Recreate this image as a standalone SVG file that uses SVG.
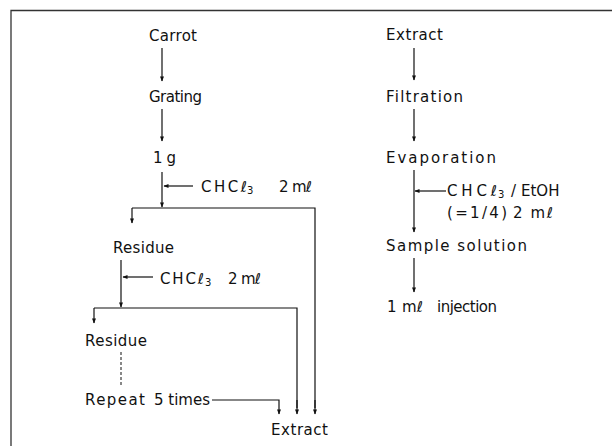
<svg xmlns="http://www.w3.org/2000/svg" width="614" height="446" viewBox="0 0 614 446">
<defs>
<style>
text{font-family:"DejaVu Sans","Liberation Sans",sans-serif;font-size:15px;fill:#111}
.sub{font-size:10px}
.ln{stroke:#111;stroke-width:1.2;fill:none}
.ar{stroke:#111;stroke-width:1.2;fill:none;marker-end:url(#ah)}
.dash{stroke:#111;stroke-width:1;fill:none;stroke-dasharray:3 2}
.frame{stroke:#333;stroke-width:1.3;fill:none}
</style>
<marker id="ah" viewBox="0 0 10 10" refX="9" refY="5" markerWidth="6" markerHeight="5" orient="auto" markerUnits="userSpaceOnUse">
<path d="M0,1 L10,5 L0,9 Z" fill="#111"/>
</marker>
</defs>
<rect width="614" height="446" fill="#fff"/>
<path class="frame" d="M11,446 V10.5 H612"/>

<g id="n-carrot"><text x="149" y="41" textLength="48" lengthAdjust="spacing">Carrot</text></g>
<g id="n-grating"><text x="149" y="102" textLength="53" lengthAdjust="spacing">Grating</text></g>
<g id="n-1g"><text x="153" y="163" textLength="23" lengthAdjust="spacing">1 g</text></g>
<g id="n-chcl3-1"><text x="201" y="192" textLength="46" lengthAdjust="spacing">CHCℓ</text><text class="sub" x="247" y="194">3</text><text x="279" y="192" textLength="33" lengthAdjust="spacing">2 mℓ</text></g>
<g id="n-residue-1"><text x="113" y="253" textLength="61" lengthAdjust="spacing">Residue</text></g>
<g id="n-chcl3-2"><text x="160" y="284" textLength="44" lengthAdjust="spacing">CHCℓ</text><text class="sub" x="205" y="286">3</text><text x="228" y="284" textLength="33" lengthAdjust="spacing">2 mℓ</text></g>
<g id="n-residue-2"><text x="85" y="346" textLength="62" lengthAdjust="spacing">Residue</text></g>
<g id="n-repeat"><text x="85" y="405" textLength="60" lengthAdjust="spacing">Repeat</text><text x="154" y="405" textLength="56" lengthAdjust="spacing">5 times</text></g>
<g id="n-extract-1"><text x="271" y="435" textLength="57" lengthAdjust="spacing">Extract</text></g>
<g id="n-extract-2"><text x="386" y="40" textLength="57" lengthAdjust="spacing">Extract</text></g>
<g id="n-filtration"><text x="386" y="102" textLength="77" lengthAdjust="spacing">Filtration</text></g>
<g id="n-evaporation"><text x="386" y="163" textLength="110" lengthAdjust="spacing">Evaporation</text></g>
<g id="n-solvent"><text x="447" y="196" textLength="50" lengthAdjust="spacing">CHCℓ</text><text class="sub" x="498" y="198">3</text><text x="511" y="196">/</text><text x="521" y="196">EtOH</text><text x="447" y="218" textLength="60" lengthAdjust="spacing">(=1/4)</text><text x="513" y="218" textLength="40" lengthAdjust="spacing">2 mℓ</text></g>
<g id="n-sample"><text x="386" y="251" textLength="141" lengthAdjust="spacing">Sample  solution</text></g>
<g id="n-injection"><text x="387" y="312" textLength="36" lengthAdjust="spacing">1 mℓ</text><text x="437" y="312" textLength="60" lengthAdjust="spacing">injection</text></g>

<g id="connectors">
<line class="ar" x1="162" y1="48" x2="162" y2="81"/>
<line class="ar" x1="162" y1="109" x2="162" y2="141"/>
<line class="ar" x1="162" y1="172" x2="162" y2="207"/>
<line class="ar" x1="193" y1="186" x2="164" y2="186"/>
<path class="ln" d="M132,208 H315 V408"/>
<line class="ar" x1="315" y1="400" x2="315" y2="414"/>
<line class="ar" x1="132" y1="208" x2="132" y2="223"/>
<line class="ar" x1="121" y1="260" x2="121" y2="307"/>
<line class="ar" x1="153" y1="277" x2="123" y2="277"/>
<path class="ln" d="M94,308 H297 V408"/>
<line class="ar" x1="297" y1="400" x2="297" y2="414"/>
<line class="ar" x1="94" y1="308" x2="94" y2="323"/>
<line class="dash" x1="121" y1="352" x2="121" y2="387"/>
<path class="ar" d="M212,400 H279 V414"/>
<line class="ar" x1="414" y1="48" x2="414" y2="80"/>
<line class="ar" x1="414" y1="109" x2="414" y2="141"/>
<line class="ar" x1="414" y1="170" x2="414" y2="232"/>
<line class="ar" x1="446" y1="191" x2="415" y2="191"/>
<line class="ar" x1="414" y1="258" x2="414" y2="292"/>
</g>
</svg>
